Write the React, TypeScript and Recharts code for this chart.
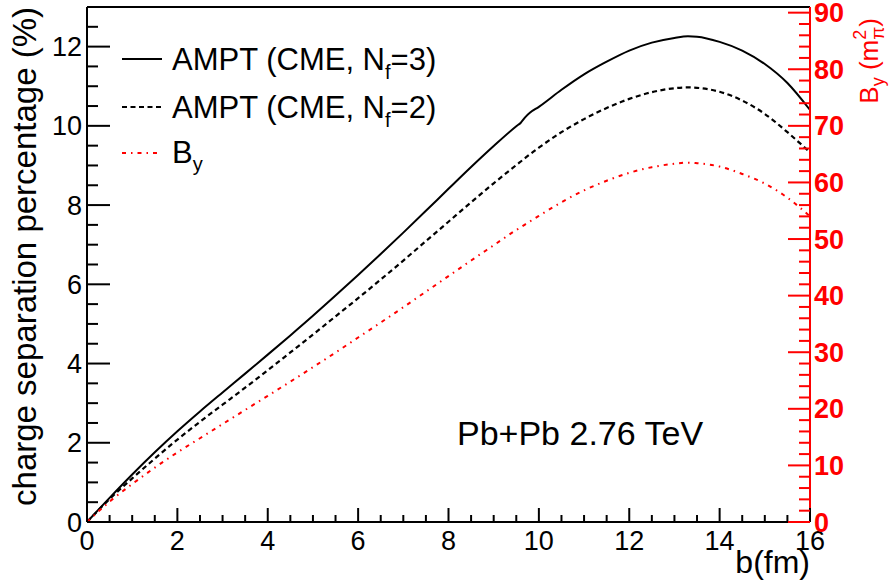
import React from 'react';
import { LineChart, Line, XAxis, YAxis, Legend, ReferenceLine } from 'recharts';

const FONT = '"Liberation Sans", Arial, Helvetica, sans-serif';
const RED = '#ff0000';

// impact parameter b (fm)
const B_VALUES = [0, 0.5, 1, 1.5, 2, 2.5, 3, 3.5, 4, 4.5, 5, 5.5, 6, 6.5, 7, 7.5, 8, 8.5, 9, 9.5, 9.6, 9.7, 9.8, 10, 10.5, 11, 11.5, 12, 12.5, 13, 13.3, 13.5, 14, 14.5, 15, 15.5, 16];
// charge separation percentage (%)
const NF3 = [0, 0.61, 1.2, 1.76, 2.29, 2.79, 3.27, 3.745, 4.225, 4.71, 5.205, 5.715, 6.235, 6.765, 7.305, 7.855, 8.41, 8.96, 9.49, 9.99, 10.08, 10.22, 10.33, 10.48, 10.91, 11.3, 11.62, 11.9, 12.1, 12.22, 12.26, 12.25, 12.12, 11.9, 11.56, 11.08, 10.4];
const NF2 = [0, 0.58, 1.1, 1.6, 2.08, 2.53, 2.96, 3.39, 3.83, 4.28, 4.73, 5.19, 5.65, 6.12, 6.6, 7.09, 7.58, 8.07, 8.55, 9.01, 9.1, 9.19, 9.28, 9.45, 9.84, 10.17, 10.45, 10.68, 10.85, 10.95, 10.97, 10.96, 10.86, 10.64, 10.3, 9.84, 9.33];
// magnetic field B_y (m_pi^2)
const BY = [0, 3.6, 6.7, 9.6, 12.3, 14.8, 17.3, 19.8, 22.3, 24.8, 27.35, 29.95, 32.6, 35.25, 37.95, 40.7, 43.45, 46.2, 48.9, 51.6, 52.1, 52.6, 53.1, 54.1, 56.5, 58.6, 60.3, 61.7, 62.7, 63.3, 63.5, 63.4, 62.8, 61.5, 59.8, 57.3, 54.0];

const X_TICKS = Array.from({ length: 33 }, (_, i) => i * 0.5);
const LEFT_TICKS = Array.from({ length: 27 }, (_, i) => i * 0.5);
const RIGHT_TICKS = Array.from({ length: 46 }, (_, i) => i * 2);

const data = B_VALUES.map((b, i) => ({ b, nf3: NF3[i], nf2: NF2[i], by: BY[i] }));

const BottomTick = (props: any) => {
    const { x, y, payload } = props;
    const v = payload.value;
    const major = v % 2 === 0;
    return (
        <g>
            <line x1={x} x2={x} y1={y} y2={y - (major ? 14 : 7)} stroke="#000" strokeWidth={2} />
            {major && (
                <text x={x} y={y + 28} textAnchor="middle" fontSize={27} fontFamily={FONT} fill="#000">{v}</text>
            )}
        </g>
    );
};

const LeftTick = (props: any) => {
    const { x, y, payload } = props;
    const v = payload.value;
    const major = v % 2 === 0;
    return (
        <g>
            <line x1={x} x2={x + (major ? 23 : 11)} y1={y} y2={y} stroke="#000" strokeWidth={2} />
            {major && (
                <text x={x - 5} y={y + 9.5} textAnchor="end" fontSize={27} fontFamily={FONT} fill="#000">{v}</text>
            )}
        </g>
    );
};

const RightTick = (props: any) => {
    const { x, y, payload } = props;
    const v = payload.value;
    const major = v % 10 === 0;
    return (
        <g>
            <line x1={x} x2={x - (major ? 22 : 11)} y1={y} y2={y} stroke={RED} strokeWidth={2} />
            {major && (
                <text x={x + 4} y={y + 9.5} textAnchor="start" fontSize={27} fontWeight="bold" fontFamily={FONT} fill={RED}>{v}</text>
            )}
        </g>
    );
};

const LegendBox = () => (
    <svg width={340} height={150} style={{ overflow: 'visible' }}>
        <line x1={12} x2={52} y1={29} y2={29} stroke="#000" strokeWidth={2} />
        <text x={62} y={40} fontSize={31} fontFamily={FONT} fill="#000">
            AMPT (CME, N<tspan fontSize={20} dy={9}>f</tspan><tspan dy={-9}>=3)</tspan>
        </text>
        <line x1={12} x2={52} y1={77} y2={77} stroke="#000" strokeWidth={2} strokeDasharray="5 3.5" />
        <text x={62} y={87.5} fontSize={31} fontFamily={FONT} fill="#000">
            AMPT (CME, N<tspan fontSize={20} dy={9}>f</tspan><tspan dy={-9}>=2)</tspan>
        </text>
        <line x1={12} x2={52} y1={123} y2={123} stroke={RED} strokeWidth={2} strokeDasharray="4 5 1.5 5" />
        <text x={62} y={133} fontSize={31} fontFamily={FONT} fill="#000">
            B<tspan fontSize={20} dy={8}>y</tspan>
        </text>
    </svg>
);

export default function App() {
    return (
        <div style={{ position: 'absolute', left: 0, top: 0, width: 893, height: 581, background: '#fff' }}>
            <LineChart width={893} height={581} data={data} margin={{ top: 7, right: 0, bottom: 0, left: 0 }}>
                <XAxis
                    dataKey="b" type="number" domain={[0, 16]} ticks={X_TICKS} interval={0}
                    height={59} tickSize={0} tickMargin={0} tickLine={false}
                    axisLine={{ stroke: '#000', strokeWidth: 2 }} tick={<BottomTick />}
                    label={{ value: 'b(fm)', position: 'insideBottomRight', offset: 0, dy: -8, fontSize: 32, fill: '#000', fontFamily: FONT }}
                />
                <YAxis
                    yAxisId="left" type="number" domain={[0, 13]} ticks={LEFT_TICKS} interval={0}
                    width={87} tickSize={0} tickMargin={0} tickLine={false}
                    axisLine={{ stroke: '#000', strokeWidth: 2 }} tick={<LeftTick />}
                    label={{
                        content: () => (
                            <text x={36} y={7} transform="rotate(-90 36 7)" textAnchor="end" fontSize={33} fontFamily={FONT} fill="#000">
                                charge separation percentage (%)
                            </text>
                        ),
                    }}
                />
                <YAxis
                    yAxisId="right" orientation="right" type="number" domain={[0, 91]} ticks={RIGHT_TICKS} interval={0}
                    width={83} tickSize={0} tickMargin={0} tickLine={false}
                    axisLine={{ stroke: RED, strokeWidth: 2 }} tick={<RightTick />}
                    label={{
                        content: () => (
                            <text x={878} y={18} transform="rotate(-90 878 18)" textAnchor="end" fontSize={26} fontFamily={FONT} fill={RED}>
                                B<tspan fontSize={18} dy={6}>y</tspan><tspan dy={-6}> (m</tspan><tspan fontSize={18} dy={-12}>2</tspan><tspan fontSize={19} dx={-10} dy={18}>π</tspan><tspan dy={-6}>)</tspan>
                            </text>
                        ),
                    }}
                />
                <ReferenceLine yAxisId="left" y={13} stroke="#000" strokeWidth={2} />
                <Legend
                    layout="horizontal" align="center" verticalAlign="middle"
                    wrapperStyle={{ left: 110, top: 30, width: 340, height: 150 }}
                    content={() => <LegendBox />}
                />
                <Line yAxisId="left" dataKey="nf3" type="monotone" stroke="#000" strokeWidth={2} dot={false} isAnimationActive={false} />
                <Line yAxisId="left" dataKey="nf2" type="monotone" stroke="#000" strokeWidth={2.2} strokeDasharray="5 3.5" dot={false} isAnimationActive={false} />
                <Line yAxisId="right" dataKey="by" type="monotone" stroke={RED} strokeWidth={2} strokeDasharray="4 5 1.5 5" dot={false} isAnimationActive={false} />
                <text x={457} y={445} fontSize={34} fontFamily={FONT} fill="#000">Pb+Pb 2.76 TeV</text>
            </LineChart>
        </div>
    );
}
